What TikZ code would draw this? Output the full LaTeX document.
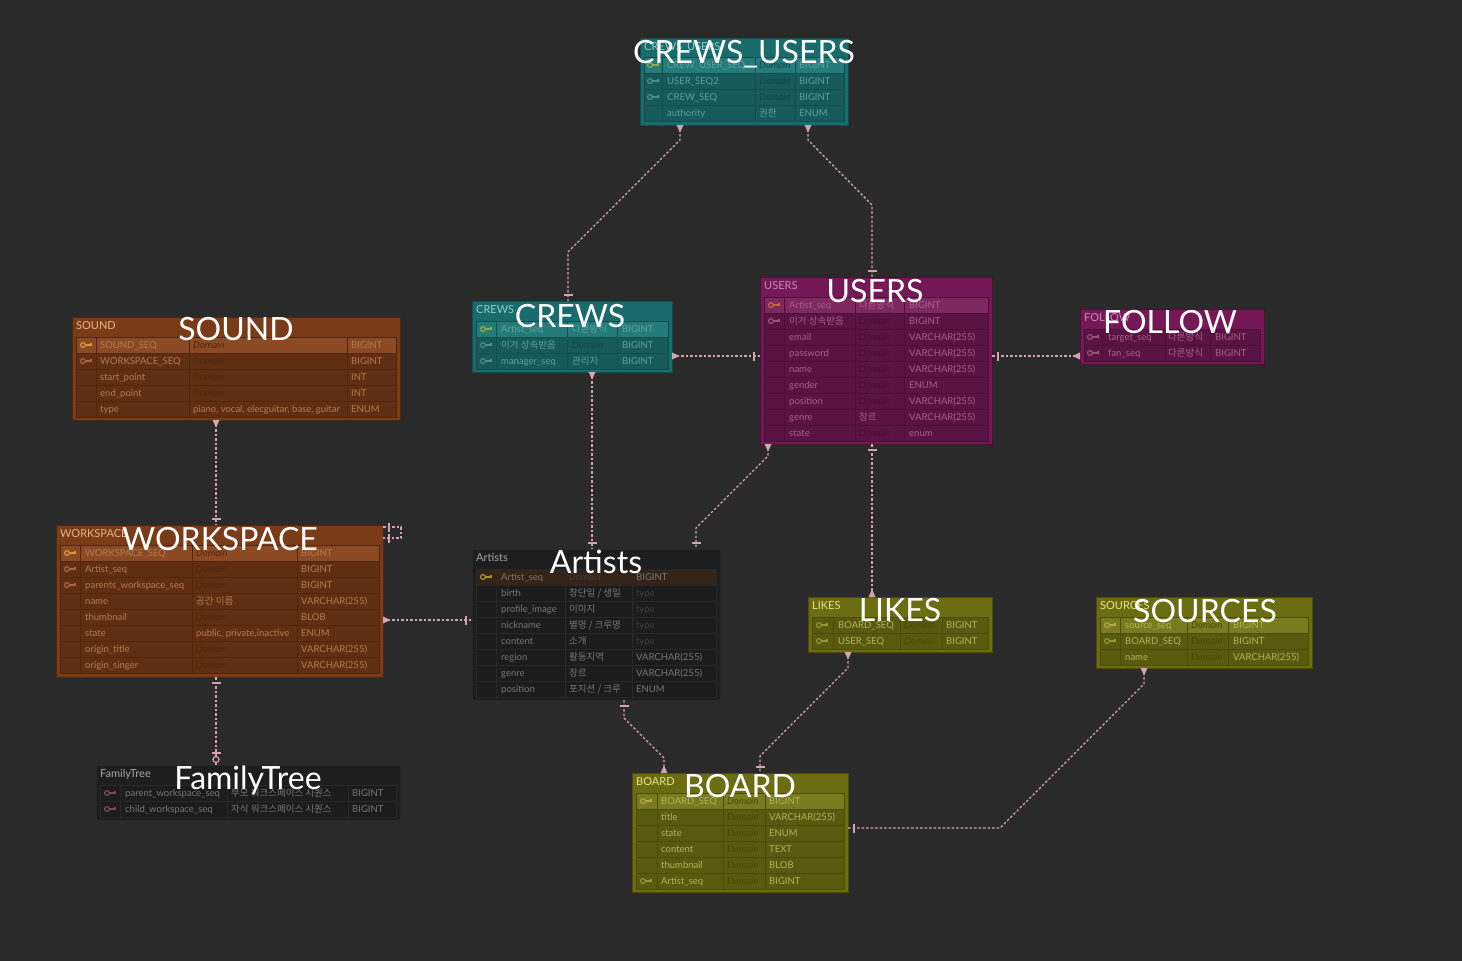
\documentclass[tikz,border=0pt]{standalone}
\usepackage{fontspec}
\setmainfont{Lato}
\newfontfamily\kr{Noto Sans CJK KR}
\usepackage{tikz}
\usetikzlibrary{calc}
\usetikzlibrary{decorations.markings}

\definecolor{bgcol}{RGB}{42,42,42}
\definecolor{relpink}{RGB}{214,162,178}
%teal tables
\definecolor{tealhd}{RGB}{26,108,108}
\definecolor{tealrow}{RGB}{22,90,92}
\definecolor{tealpk}{RGB}{36,124,122}
\definecolor{tealline}{RGB}{18,78,80}
\definecolor{tealtext}{RGB}{95,160,158}
\definecolor{tealtitle}{RGB}{140,205,200}
\definecolor{tealdom}{RGB}{18,72,74}
\definecolor{tealkey}{RGB}{80,140,140}
\definecolor{tealpkey}{RGB}{150,170,70}
%magenta tables
\definecolor{maghd}{RGB}{116,24,86}
\definecolor{magrow}{RGB}{90,20,67}
\definecolor{magpk}{RGB}{126,40,96}
\definecolor{magline}{RGB}{76,16,56}
\definecolor{magtext}{RGB}{165,95,142}
\definecolor{magtitle}{RGB}{200,135,180}
\definecolor{magdom}{RGB}{72,14,54}
\definecolor{magkey}{RGB}{160,80,125}
\definecolor{magpkey}{RGB}{200,105,60}
%brown tables
\definecolor{brnhd}{RGB}{122,60,24}
\definecolor{brnrow}{RGB}{96,47,19}
\definecolor{brnpk}{RGB}{140,74,36}
\definecolor{brnline}{RGB}{80,38,14}
\definecolor{brntext}{RGB}{178,122,82}
\definecolor{brntitle}{RGB}{230,180,135}
\definecolor{brndom}{RGB}{82,38,14}
\definecolor{brnkey}{RGB}{170,100,70}
\definecolor{brnpkey}{RGB}{210,155,50}
%olive tables
\definecolor{olvhd}{RGB}{108,108,18}
\definecolor{olvrow}{RGB}{90,90,14}
\definecolor{olvpk}{RGB}{122,122,30}
\definecolor{olvline}{RGB}{76,76,10}
\definecolor{olvtext}{RGB}{178,178,96}
\definecolor{olvtitle}{RGB}{228,228,140}
\definecolor{olvdom}{RGB}{74,74,8}
\definecolor{olvkey}{RGB}{150,150,60}
\definecolor{olvpkey}{RGB}{170,170,70}
%dark tables
\definecolor{drkhd}{RGB}{30,30,30}
\definecolor{drkrow}{RGB}{28,28,28}
\definecolor{drkpk}{RGB}{50,36,24}
\definecolor{drkline}{RGB}{40,40,40}
\definecolor{drktext}{RGB}{118,118,118}
\definecolor{drktitle}{RGB}{165,165,165}
\definecolor{drkdom}{RGB}{62,62,62}
\definecolor{drkkey}{RGB}{120,80,90}
\definecolor{drkpkey}{RGB}{170,150,40}

\newcommand{\erdtheme}[1]{%
  \colorlet{thd}{#1hd}\colorlet{trow}{#1row}\colorlet{tpk}{#1pk}%
  \colorlet{tline}{#1line}\colorlet{ttext}{#1text}\colorlet{ttitle}{#1title}%
  \colorlet{tdom}{#1dom}\colorlet{tkey}{#1key}\colorlet{tpkey}{#1pkey}}
\newcommand{\dmn}{{\itshape\color{tdom}Domain}}
\newcommand{\tph}{{\color{tdom}type}}

\begin{document}
\begin{tikzpicture}[x=1pt,y=1pt,yscale=-1,xscale=1,
    tbl/.style={rectangle, anchor=north west, inner sep=0pt, outer sep=0pt, fill=thd, draw=tline, line width=0.8pt},
    hdr/.style={anchor=base west, inner sep=0pt, text=ttitle, font=\fontsize{11}{13}\selectfont},
    ttl/.style={anchor=base, inner sep=0pt, text=white, font=\fontsize{32}{36}\selectfont},
    cell/.style={anchor=base west, inner sep=0pt, text=ttext, font=\fontsize{9.5}{11}\selectfont},
    rowbox/.style={fill=trow, draw=tline, line width=0.6pt},
    pkbox/.style={fill=tpk, draw=tline, line width=0.6pt},
    colline/.style={draw=tline, line width=0.6pt},
    keyicon/.pic={
      \draw [line width=1.2pt] (-3,0) circle (2.4);
      \draw [line width=1.2pt] (-0.6,0) -- (5,0) -- (5,2.5);
    },
    rel/.style={draw=relpink, line width=1.3pt, dash pattern=on 2.5pt off 2pt},
    tristart/.style={postaction={decorate, decoration={markings,
      mark=at position 0.5pt with {\fill [relpink] (-0.5pt,-3.5pt) -- (7pt,0pt) -- (-0.5pt,3.5pt) -- cycle;}}}},
    triend/.style={postaction={decorate, decoration={markings,
      mark=at position -0.5pt with {\fill [relpink] (0.5pt,-3.5pt) -- (-7pt,0pt) -- (0.5pt,3.5pt) -- cycle;}}}},
    barstart/.style={postaction={decorate, decoration={markings,
      mark=at position 6pt with {\draw [solid, relpink, line width=1.3pt] (0pt,-4.5pt) -- (0pt,4.5pt);}}}},
    barend/.style={postaction={decorate, decoration={markings,
      mark=at position -6pt with {\draw [solid, relpink, line width=1.3pt] (0pt,-4.5pt) -- (0pt,4.5pt);}}}},
    ringend/.style={postaction={decorate, decoration={markings,
      mark=at position -12pt with {\draw [solid, relpink, line width=1.3pt] (0pt,-4.5pt) -- (0pt,4.5pt);},
      mark=at position -5.5pt with {\filldraw [solid, fill=bgcol, draw=relpink, line width=1.2pt] (0pt,0pt) circle (3pt);}}}}
  ]
    %background
    \useasboundingbox (0,0) rectangle (1462,961);
    \fill [bgcol] (0,0) rectangle (1462,961);

    %Table: CREWS_USERS
    \erdtheme{teal}
    \node [tbl, minimum width=208pt, minimum height=87pt] (crewsusers) at (640,38) {};
    \node [hdr] (crewsusers-h) at (644,50) {CREWS\_USERS};
    \foreach \y in {57,73,...,105} \draw [rowbox] (644,\y) rectangle (844,\y+16);
    \draw [pkbox] (644,57) rectangle (844,73);
    \foreach \x in {662,755,795} \draw [colline] (\x,57) -- (\x,121);
    \pic [color=tpkey] at (653,65) {keyicon};
    \pic [color=tkey] at (653,81) {keyicon};
    \pic [color=tkey] at (653,97) {keyicon};
    \foreach \y/\nm/\dm/\ty in {65/CREW\_USER\_SEQ/\dmn/BIGINT, 81/USER\_SEQ2/\dmn/BIGINT,
        97/CREW\_SEQ/\dmn/BIGINT, 113/authority/{\kr 권한}/ENUM}{
      \node [cell] (crewsusers-n\y) at (667,\y+3.5) {\nm};
      \node [cell] (crewsusers-d\y) at (759,\y+3.5) {\dm};
      \node [cell] (crewsusers-t\y) at (799,\y+3.5) {\ty};
    }

    %Table: USERS
    \erdtheme{mag}
    \node [tbl, minimum width=232pt, minimum height=167pt] (users) at (760,277) {};
    \node [hdr] (users-h) at (764,289) {USERS};
    \foreach \y in {297,313,...,425} \draw [rowbox] (764,\y) rectangle (988,\y+16);
    \draw [pkbox] (764,297) rectangle (988,313);
    \foreach \x in {784,855,904} \draw [colline] (\x,297) -- (\x,441);
    \pic [color=tpkey] at (774,305) {keyicon};
    \pic [color=tkey] at (774,321) {keyicon};
    \foreach \y/\nm/\dm/\ty in {305/Artist\_seq/{\kr 다른방식}/BIGINT, 321/{\kr 이거 상속받음}/\dmn/BIGINT,
        337/email/\dmn/VARCHAR(255), 353/password/\dmn/VARCHAR(255), 369/name/\dmn/VARCHAR(255),
        385/gender/\dmn/ENUM, 401/position/\dmn/VARCHAR(255), 417/genre/{\kr 장르}/VARCHAR(255),
        433/state/\dmn/enum}{
      \node [cell] (users-n\y) at (789,\y+3.5) {\nm};
      \node [cell] (users-d\y) at (859,\y+3.5) {\dm};
      \node [cell] (users-t\y) at (909,\y+3.5) {\ty};
    }

    %Table: CREWS
    \erdtheme{teal}
    \node [tbl, minimum width=200pt, minimum height=71pt] (crews) at (472,301) {};
    \node [hdr] (crews-h) at (476,313) {CREWS};
    \foreach \y in {321,337,353} \draw [rowbox] (476,\y) rectangle (668,\y+16);
    \draw [pkbox] (476,321) rectangle (668,337);
    \foreach \x in {496,567,617} \draw [colline] (\x,321) -- (\x,369);
    \pic [color=tpkey] at (486,329) {keyicon};
    \pic [color=tkey] at (486,345) {keyicon};
    \pic [color=tkey] at (486,361) {keyicon};
    \foreach \y/\nm/\dm/\ty in {329/Artist\_seq/{\kr 다른방식}/BIGINT, 345/{\kr 이거 상속받음}/\dmn/BIGINT,
        361/manager\_seq/{\kr 관리자}/BIGINT}{
      \node [cell] (crews-n\y) at (501,\y+3.5) {\nm};
      \node [cell] (crews-d\y) at (572,\y+3.5) {\dm};
      \node [cell] (crews-t\y) at (622,\y+3.5) {\ty};
    }

    %Table: FOLLOW
    \erdtheme{mag}
    \node [tbl, minimum width=184pt, minimum height=55pt] (follow) at (1080,309) {};
    \node [hdr] (follow-h) at (1084,321) {FOLLOW};
    \foreach \y in {329,345} \draw [rowbox] (1084,\y) rectangle (1260,\y+16);
    \foreach \x in {1102,1165,1210} \draw [colline] (\x,329) -- (\x,361);
    \pic [color=tkey] at (1093,337) {keyicon};
    \pic [color=tkey] at (1093,353) {keyicon};
    \foreach \y/\nm/\dm/\ty in {337/target\_seq/{\kr 다른방식}/BIGINT, 353/fan\_seq/{\kr 다른방식}/BIGINT}{
      \node [cell] (follow-n\y) at (1108,\y+3.5) {\nm};
      \node [cell] (follow-d\y) at (1168,\y+3.5) {\dm};
      \node [cell] (follow-t\y) at (1215,\y+3.5) {\ty};
    }

    %Table: SOUND
    \erdtheme{brn}
    \node [tbl, minimum width=328pt, minimum height=103pt] (sound) at (72,317) {};
    \node [hdr] (sound-h) at (76,329) {SOUND};
    \foreach \y in {337,353,...,401} \draw [rowbox] (76,\y) rectangle (396,\y+16);
    \draw [pkbox] (76,337) rectangle (396,353);
    \foreach \x in {96,189,347} \draw [colline] (\x,337) -- (\x,417);
    \pic [color=tpkey] at (86,345) {keyicon};
    \pic [color=tkey] at (86,361) {keyicon};
    \foreach \y/\nm/\dm/\ty in {345/SOUND\_SEQ/\dmn/BIGINT, 361/WORKSPACE\_SEQ/\dmn/BIGINT,
        377/start\_point/\dmn/INT, 393/end\_point/\dmn/INT,
        409/type/{piano, vocal, elecguitar, base, guitar}/ENUM}{
      \node [cell] (sound-n\y) at (100,\y+3.5) {\nm};
      \node [cell] (sound-d\y) at (193,\y+3.5) {\dm};
      \node [cell] (sound-t\y) at (351,\y+3.5) {\ty};
    }

    %Table: WORKSPACE
    \erdtheme{brn}
    \node [tbl, minimum width=327pt, minimum height=152pt] (workspace) at (56,525) {};
    \node [hdr] (workspace-h) at (60,537) {WORKSPACE};
    \foreach \y in {545,561,...,657} \draw [rowbox] (60,\y) rectangle (379,\y+16);
    \draw [pkbox] (60,545) rectangle (379,561);
    \foreach \x in {80,192,297} \draw [colline] (\x,545) -- (\x,673);
    \pic [color=tpkey] at (70,553) {keyicon};
    \pic [color=tkey] at (70,569) {keyicon};
    \pic [color=tkey] at (70,585) {keyicon};
    \foreach \y/\nm/\dm/\ty in {553/WORKSPACE\_SEQ/\dmn/BIGINT, 569/Artist\_seq/\dmn/BIGINT,
        585/parents\_workspace\_seq/\dmn/BIGINT, 601/name/{\kr 공간 이름}/VARCHAR(255),
        617/thumbnail/\dmn/BLOB, 633/state/{public, private,inactive}/ENUM,
        649/origin\_title/\dmn/VARCHAR(255), 665/origin\_singer/\dmn/VARCHAR(255)}{
      \node [cell] (workspace-n\y) at (85,\y+3.5) {\nm};
      \node [cell] (workspace-d\y) at (196,\y+3.5) {\dm};
      \node [cell] (workspace-t\y) at (301,\y+3.5) {\ty};
    }

    %Table: Artists
    \erdtheme{drk}
    \node [tbl, minimum width=248pt, minimum height=151pt] (artists) at (472,549) {};
    \node [hdr] (artists-h) at (476,561) {Artists};
    \foreach \y in {569,585,...,681} \draw [rowbox] (476,\y) rectangle (716,\y+16);
    \draw [pkbox] (476,569) rectangle (716,585);
    \foreach \x in {496,565,632} \draw [colline] (\x,569) -- (\x,697);
    \pic [color=tpkey] at (486,577) {keyicon};
    \foreach \y/\nm/\dm/\ty in {577/Artist\_seq/\dmn/BIGINT, 593/birth/{\kr 창단일 / 생일}/\tph,
        609/profile\_image/{\kr 이미지}/\tph, 625/nickname/{\kr 별명 / 크루명}/\tph,
        641/content/{\kr 소개}/\tph, 657/region/{\kr 활동지역}/VARCHAR(255),
        673/genre/{\kr 장르}/VARCHAR(255), 689/position/{\kr 포지션 / 크루}/ENUM}{
      \node [cell] (artists-n\y) at (501,\y+3.5) {\nm};
      \node [cell] (artists-d\y) at (569,\y+3.5) {\dm};
      \node [cell] (artists-t\y) at (636,\y+3.5) {\ty};
    }

    %Table: FamilyTree
    \erdtheme{drk}
    \node [tbl, minimum width=304pt, minimum height=55pt] (familytree) at (96,765) {};
    \node [hdr] (familytree-h) at (100,777) {FamilyTree};
    \foreach \y in {785,801} \draw [rowbox] (100,\y) rectangle (396,\y+16);
    \foreach \x in {120,227,348} \draw [colline] (\x,785) -- (\x,817);
    \pic [color=tkey] at (110,793) {keyicon};
    \pic [color=tkey] at (110,809) {keyicon};
    \foreach \y/\nm/\dm/\ty in {793/parent\_workspace\_seq/{\kr 부모 워크스페이스 시퀀스}/BIGINT,
        809/child\_workspace\_seq/{\kr 자식 워크스페이스 시퀀스}/BIGINT}{
      \node [cell] (familytree-n\y) at (125,\y+3.5) {\nm};
      \node [cell] (familytree-d\y) at (231,\y+3.5) {\dm};
      \node [cell] (familytree-t\y) at (352,\y+3.5) {\ty};
    }

    %Table: LIKES
    \erdtheme{olv}
    \node [tbl, minimum width=184pt, minimum height=55pt] (likes) at (808,597) {};
    \node [hdr] (likes-h) at (812,609) {LIKES};
    \foreach \y in {617,633} \draw [rowbox] (812,\y) rectangle (988,\y+16);
    \foreach \x in {833,900,942} \draw [colline] (\x,617) -- (\x,649);
    \pic [color=tkey] at (822,625) {keyicon};
    \pic [color=tkey] at (822,641) {keyicon};
    \foreach \y/\nm/\dm/\ty in {625/BOARD\_SEQ/\dmn/BIGINT, 641/USER\_SEQ/\dmn/BIGINT}{
      \node [cell] (likes-n\y) at (838,\y+3.5) {\nm};
      \node [cell] (likes-d\y) at (904,\y+3.5) {\dm};
      \node [cell] (likes-t\y) at (946,\y+3.5) {\ty};
    }

    %Table: SOURCES
    \erdtheme{olv}
    \node [tbl, minimum width=216pt, minimum height=71pt] (sources) at (1096,597) {};
    \node [hdr] (sources-h) at (1100,609) {SOURCES};
    \foreach \y in {617,633,649} \draw [rowbox] (1100,\y) rectangle (1308,\y+16);
    \draw [pkbox] (1100,617) rectangle (1308,633);
    \foreach \x in {1120,1187,1228} \draw [colline] (\x,617) -- (\x,665);
    \pic [color=tpkey] at (1110,625) {keyicon};
    \pic [color=tkey] at (1110,641) {keyicon};
    \foreach \y/\nm/\dm/\ty in {625/source\_seq/\dmn/BIGINT, 641/BOARD\_SEQ/\dmn/BIGINT,
        657/name/\dmn/VARCHAR(255)}{
      \node [cell] (sources-n\y) at (1125,\y+3.5) {\nm};
      \node [cell] (sources-d\y) at (1191,\y+3.5) {\dm};
      \node [cell] (sources-t\y) at (1233,\y+3.5) {\ty};
    }

    %Table: BOARD
    \erdtheme{olv}
    \node [tbl, minimum width=216pt, minimum height=119pt] (board) at (632,773) {};
    \node [hdr] (board-h) at (636,785) {BOARD};
    \foreach \y in {793,809,...,873} \draw [rowbox] (636,\y) rectangle (844,\y+16);
    \draw [pkbox] (636,793) rectangle (844,809);
    \foreach \x in {657,723,765} \draw [colline] (\x,793) -- (\x,889);
    \pic [color=tpkey] at (646,801) {keyicon};
    \pic [color=tkey] at (646,881) {keyicon};
    \foreach \y/\nm/\dm/\ty in {801/BOARD\_SEQ/\dmn/BIGINT, 817/title/\dmn/VARCHAR(255),
        833/state/\dmn/ENUM, 849/content/\dmn/TEXT, 865/thumbnail/\dmn/BLOB,
        881/Artist\_seq/\dmn/BIGINT}{
      \node [cell] (board-n\y) at (661,\y+3.5) {\nm};
      \node [cell] (board-d\y) at (727,\y+3.5) {\dm};
      \node [cell] (board-t\y) at (769,\y+3.5) {\ty};
    }

    %Relations
    \draw [rel, tristart, barend] ($(crewsusers.south west)+(40,0)$) -- ++(0,15) -- ++(-112,112) -- ($(crews.north west)+(96,0)$);
    \draw [rel, tristart, barend] ($(crewsusers.south west)+(168,0)$) -- ++(0,15) -- ++(64,65) -- ($(users.north west)+(112,0)$);
    \draw [rel, tristart, barend] ($(crews.north east)+(0,55)$) -- ($(users.north west)+(0,79)$);
    \draw [rel, barstart, triend] ($(users.north east)+(0,79)$) -- ($(follow.north west)+(0,47)$);
    \draw [rel, tristart, barend] ($(crews.south west)+(120,0)$) -- ($(artists.north west)+(120,0)$);
    \draw [rel, tristart, barend] ($(users.south west)+(8,0)$) -- ++(0,12) -- ++(-72,72) -- ($(artists.north west)+(224,0)$);
    \draw [rel, barstart, triend] ($(users.south west)+(112,0)$) -- ($(likes.north west)+(64,0)$);
    \draw [rel, tristart, barend] ($(sound.south west)+(144,0)$) -- ($(workspace.north west)+(160,0)$);
    \draw [rel, tristart, barend] ($(workspace.north east)+(0,95)$) -- ($(artists.north west)+(0,71)$);
    \draw [rel, barstart, barend] ($(workspace.north east)+(0,2)$) -- ++(18,0) -- ++(0,11) -- ++(-18,0);
    \draw [rel, barstart, ringend] ($(workspace.south west)+(160,0)$) -- ($(familytree.north west)+(120,0)$);
    \draw [rel, barstart, triend] ($(artists.south west)+(152,0)$) -- ++(0,18) -- ++(40,40) -- ($(board.north west)+(32,0)$);
    \draw [rel, tristart, barend] ($(likes.south west)+(40,0)$) -- ++(0,16) -- ++(-88,88) -- ($(board.north west)+(128,0)$);
    \draw [rel, tristart, barend] ($(sources.south west)+(48,0)$) -- ++(0,16) -- ++(-144,144) -- ($(board.north east)+(0,55)$);

    %Titles
    \node [ttl] (crewsusers-title) at (744,63) {CREWS\_USERS};
    \node [ttl] (users-title) at (875,302) {USERS};
    \node [ttl] (crews-title) at (570,327) {CREWS};
    \node [ttl] (follow-title) at (1170,333) {FOLLOW};
    \node [ttl] (sound-title) at (236,340) {SOUND};
    \node [ttl] (workspace-title) at (220,550) {WORKSPACE};
    \node [ttl] (artists-title) at (596,573) {Artists};
    \node [ttl] (familytree-title) at (248,789) {FamilyTree};
    \node [ttl] (likes-title) at (900,621) {LIKES};
    \node [ttl] (sources-title) at (1205,622) {SOURCES};
    \node [ttl] (board-title) at (740,797) {BOARD};
\end{tikzpicture}
\end{document}
